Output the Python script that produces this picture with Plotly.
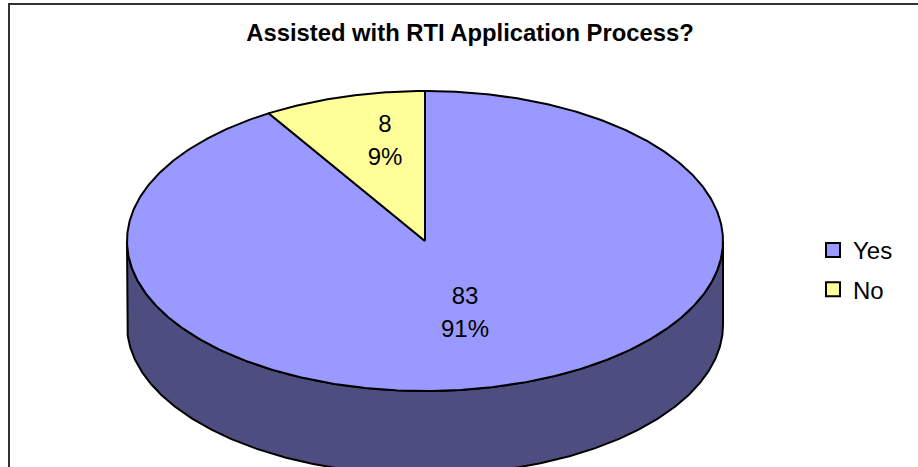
import math
import plotly.graph_objects as go

TITLE = "Assisted with RTI Application Process?"
CATEGORIES = ["Yes", "No"]
VALUES = [83, 8]
PERCENTS = ["91%", "9%"]

TOP_COLORS = ["#9999FF", "#FFFF99"]
SIDE_COLOR = "#4D4D80"
W, H = 918, 467
CX, CY, RX, RY, DEPTH = 425, 241, 298, 150, 84
LABEL_CENTERS = [(465, 314.5), (385, 142)]
FONT = "Liberation Sans, Arial, sans-serif"
OUTLINE = dict(color="black", width=2)


def rim(a0, a1, dy=0.0):
    """Points on the pie rim; angles run clockwise from 12 o'clock, in degrees."""
    n = max(2, int(abs(a1 - a0) * 2))
    angs = [math.radians(a0 + (a1 - a0) * i / n) for i in range(n + 1)]
    return ([CX + RX * math.sin(t) for t in angs],
            [CY - RY * math.cos(t) + dy for t in angs])


total = sum(VALUES)
fig = go.Figure()

# Visible wall of the disc (front half of the rim, extruded downwards)
x_top, y_top = rim(90, 270)
x_bot, y_bot = rim(270, 90, DEPTH)
fig.add_trace(go.Scatter(x=x_top + x_bot + x_top[:1], y=y_top + y_bot + y_top[:1],
                         mode="lines", fill="toself", fillcolor=SIDE_COLOR,
                         line=OUTLINE, showlegend=False, hoverinfo="skip"))

# Top face, one wedge per category, angles from the values
start = 0.0
for cat, val, col in zip(CATEGORIES, VALUES, TOP_COLORS):
    end = start + 360.0 * val / total
    xs, ys = rim(start, end)
    fig.add_trace(go.Scatter(x=[CX] + xs + [CX], y=[CY] + ys + [CY], mode="lines",
                             fill="toself", fillcolor=col, line=OUTLINE,
                             name=cat, showlegend=False, hoverinfo="skip"))
    start = end

# Data labels (value over percentage)
for (lx, ly), val, pct in zip(LABEL_CENTERS, VALUES, PERCENTS):
    fig.add_trace(go.Scatter(x=[lx, lx], y=[ly - 16.5, ly + 16.5], mode="text",
                             text=[str(val), pct], textposition="middle center",
                             textfont=dict(family=FONT, size=24, color="black"),
                             showlegend=False, hoverinfo="skip"))

# Legend entries
for i, (cat, col) in enumerate(zip(CATEGORIES, TOP_COLORS)):
    fig.add_trace(go.Scatter(x=[None], y=[None], mode="markers", name=cat, legendgroup=cat,
                             marker=dict(symbol="square", size=14, color=col,
                                         line=dict(color="black", width=2))))

fig.update_layout(
    width=W, height=H, autosize=False,
    margin=dict(l=0, r=0, t=0, b=0),
    paper_bgcolor="white", plot_bgcolor="white",
    title=dict(text=f"<b>{TITLE}</b>", x=470 / W, xanchor="center", y=1 - 33 / H, yanchor="middle",
               font=dict(family=FONT, size=23.8, color="black")),
    xaxis=dict(range=[0, W], visible=False, fixedrange=True, domain=[0, 1]),
    yaxis=dict(range=[H, 0], visible=False, fixedrange=True, domain=[0, 1]),
    legend=dict(x=813 / W, xanchor="left", y=1 - 228 / H, yanchor="top",
                font=dict(family=FONT, size=24, color="black"),
                tracegroupgap=5, bgcolor="rgba(0,0,0,0)", itemclick=False, itemdoubleclick=False),
    shapes=[dict(type="rect", xref="x", yref="y", x0=9, y0=4, x1=W + 10, y1=H + 10,
                 line=dict(color="#333333", width=2), fillcolor="rgba(0,0,0,0)", layer="above")],
)

fig.write_html("out.html", config=dict(displayModeBar=False),
               post_script="document.body.style.margin='0';document.body.style.overflow='hidden';")
